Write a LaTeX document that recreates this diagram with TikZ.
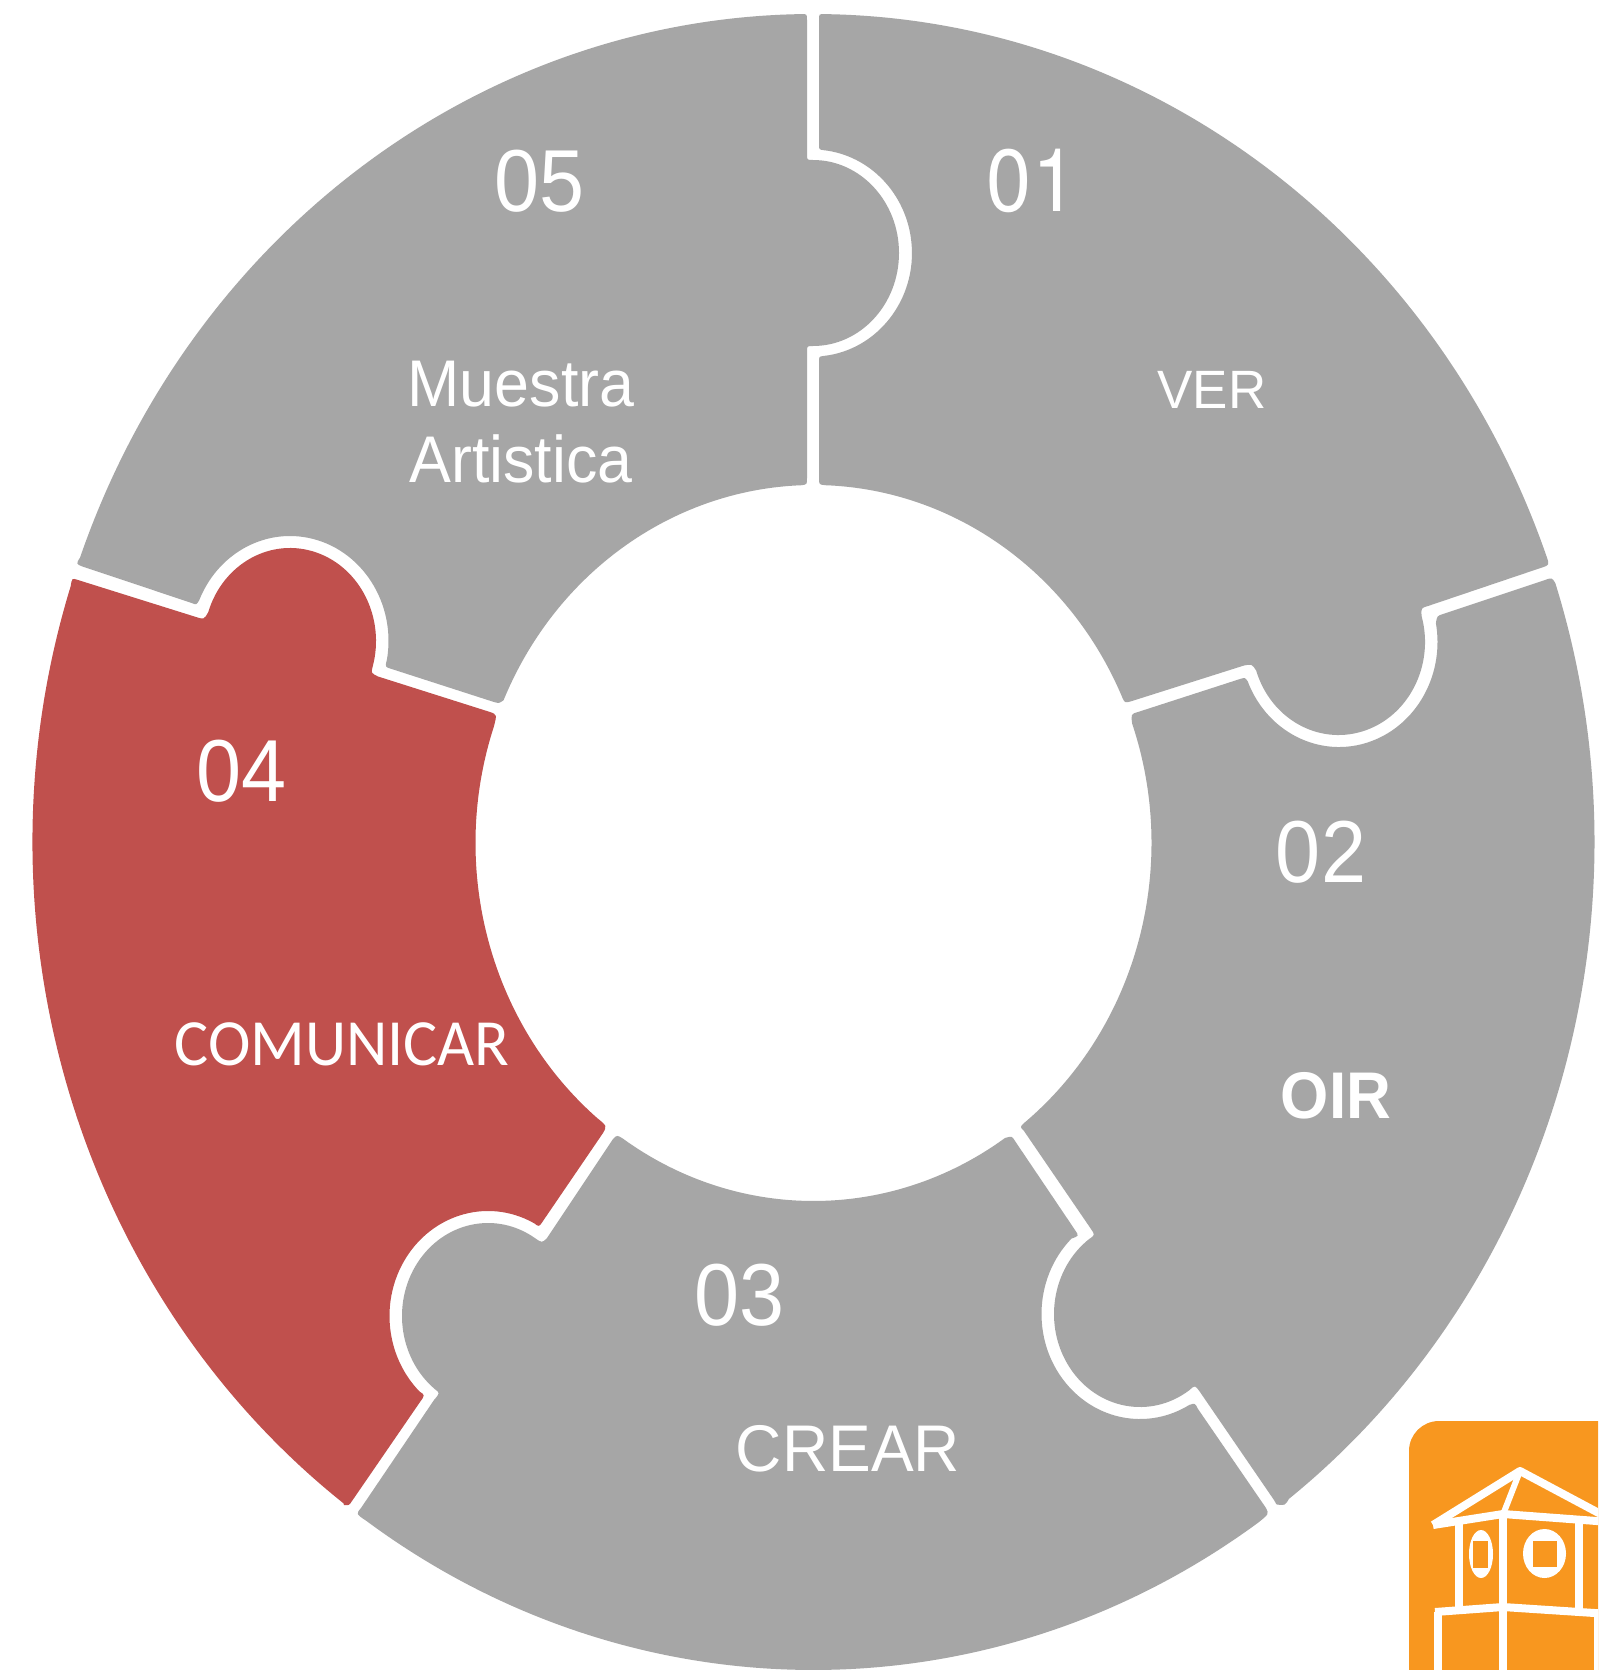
\documentclass[tikz,border=0pt]{standalone}
\usepackage{graphicx}
\usepackage{fontspec}
\setmainfont{Liberation Sans}
\newfontfamily\carlitofont{Carlito}
\newfontfamily\herosfont{TeX Gyre Heros}
\definecolor{pieceGrey}{HTML}{A6A6A6}
\definecolor{pieceRed}{HTML}{C0504D}
\definecolor{logoOrange}{HTML}{F8971F}
\newcommand{\stx}[2]{\scalebox{#1}[1]{#2}}
\tikzset{
  greyPiece/.style={fill=pieceGrey},
  redPiece/.style={fill=pieceRed},
  logoLine/.style={draw=white,line width=8pt,line cap=butt,line join=round},
  numLabel/.style={text=white,inner sep=0pt,anchor=center,font=\fontsize{88}{88}\selectfont},
  wordLabel/.style={text=white,inner sep=0pt,anchor=center,font=\fontsize{66}{66}\selectfont},
  outerArc/.style={x radius=781,y radius=828},
  innerArc/.style={x radius=338,y radius=358},
  tabArc/.style={x radius=86,y radius=93},
  holeArc/.style={x radius=98.5,y radius=105},
}
\begin{document}
\begin{tikzpicture}[x=1pt,y=-1pt]
\clip (0,0) rectangle (1598,1670);
\fill[white] (0,0) rectangle (1598,1670);

% 01
\path[greyPiece]
  ({813.5+781*cos(-89.2)},{842+828*sin(-89.2)})
  arc[start angle=-89.2,end angle=-20.2,outerArc]
  .. controls (1549.5,565) .. (1542,567.5) -- (1428,606)
  .. controls (1421,608) .. ({1338.5+86.5*cos(-16)},{642+93*sin(-16)})
  arc[start angle=-16,end angle=162,x radius=86.5,y radius=93]
  .. controls (1252,664) .. (1244,665.5) -- (1132,701)
  .. controls (1125,703) .. ({813.5+338*cos(-23.8)},{843+358*sin(-23.8)})
  arc[start angle=-23.8,end angle=-88,innerArc]
  .. controls (819,484.5) .. (819,478) -- (819,362)
  .. controls (819,356.6) .. (823.3,356)
  arc[start angle=84,end angle=-84,x radius=99,y radius=103.5]
  .. controls (819,149.5) .. (819,144) -- (819,20)
  .. controls (819,14) .. cycle;

% 02
\path[greyPiece]
  ({813.5+781*cos(-18.2)},{842+828*sin(-18.2)})
  arc[start angle=-18.2,end angle=52.5,outerArc]
  .. controls (1285,1505.5) .. (1277,1504.5)
  .. controls (1276.5,1504.5) .. (1274,1500) -- (1200,1392)
  .. controls (1195,1385) .. ({1140+86*cos(54.8)},{1314+93*sin(54.8)})
  arc[start angle=54.8,end angle=233.7,tabArc]
  .. controls (1095,1235) .. (1091,1229) -- (1024,1131)
  .. controls (1020,1127) .. ({813.5+338*cos(51.5)},{843+358*sin(51.5)})
  arc[start angle=51.5,end angle=-19.5,innerArc]
  .. controls (1131,714) .. (1138,712) -- (1240,679)
  .. controls (1245,677.5) .. ({1339+98.5*cos(158)},{642+105*sin(158)})
  arc[start angle=158,end angle=-10.3,holeArc]
  .. controls (1437,616) .. (1443,614) -- (1545,580)
  .. controls (1552,577.5) .. cycle;

% 03
\path[greyPiece]
  ({813.5+781*cos(55.3)},{842+828*sin(55.3)})
  arc[start angle=55.3,end angle=125,outerArc]
  .. controls (356,1514) .. (361,1508) -- (434,1400)
  .. controls (440,1393) .. ({488+86*cos(128)},{1316+93*sin(128)})
  arc[start angle=128,end angle=303,tabArc]
  .. controls (542,1243) .. (547,1238) -- (613,1139)
  .. controls (617,1135) .. ({813.5+338*cos(124.4)},{843+358*sin(124.4)})
  arc[start angle=124.4,end angle=55.5,innerArc]
  .. controls (1012,1136) .. (1015,1141) -- (1075,1230)
  .. controls (1079,1236) .. ({1140+98.5*cos(226)},{1314+105*sin(226)})
  arc[start angle=226,end angle=60,holeArc]
  .. controls (1195,1403) .. (1198,1409) -- (1266,1508)
  .. controls (1269,1514) .. cycle;

% 04
\path[redPiece]
  ({813.5+781*cos(127)},{842+828*sin(127)})
  arc[start angle=127,end angle=198,outerArc]
  .. controls (72,578) .. (78,580) -- (196,617)
  .. controls (204,619.5) .. ({290+86*cos(198)},{641+93*sin(198)})
  arc[start angle=198,end angle=376,tabArc]
  .. controls (371,673) .. (378,676.5) -- (490,712)
  .. controls (497,714.5) .. ({813.5+338*cos(198.9)},{843+358*sin(198.9)})
  arc[start angle=198.9,end angle=129.8,innerArc]
  .. controls (607,1126) .. (603,1133) -- (543,1221)
  .. controls (539,1227) .. ({488+98.5*cos(298)},{1316+105*sin(298)})
  arc[start angle=298,end angle=134,holeArc]
  .. controls (425,1395) .. (420,1402) -- (352,1501)
  .. controls (349,1505.5) .. (344,1505)
  -- cycle;

% 05
\path[greyPiece]
  ({813.5+781*cos(269)},{842+828*sin(269)})
  .. controls (807,13.8) .. (807,20) -- (807,154)
  .. controls (807,160) .. (813,160)
  arc[start angle=-90,end angle=90,tabArc]
  .. controls (807,346) .. (807,352) -- (807,478)
  .. controls (807,484.5) .. ({813.5+338*cos(267.9)},{843+358*sin(267.9)})
  arc[start angle=267.9,end angle=203.5,innerArc]
  .. controls (499,703.5) .. (493,701.7) -- (391.7,669)
  .. controls (385,667) .. ({290+98.5*cos(10.4)},{641+105*sin(10.4)})
  arc[start angle=10.4,end angle=-157,holeArc]
  .. controls (196.5,605) .. (191.7,603) -- (83,566.7)
  .. controls (76,564) .. ({813.5+781*cos(200.1)},{842+828*sin(200.1)})
  arc[start angle=200.1,end angle=269,outerArc]
  -- cycle;

% labels
\node[numLabel] (n05) at (540,181) {\stx{.92}{05}};
\node[numLabel,font=\herosfont\fontsize{88}{88}\selectfont] (n01) at (1032,181) {\stx{.92}{01}};
\node[numLabel] (n02) at (1321,852) {\stx{.92}{02}};
\node[numLabel] (n03) at (740,1295) {\stx{.92}{03}};
\node[numLabel] (n04) at (242,771) {\stx{.92}{04}};
\node[wordLabel] (muestra) at (521,384.5) {\stx{.95}{Muestra}};
\node[wordLabel] (artistica) at (521,459) {\stx{.95}{Artistica}};
\node[wordLabel,font=\fontsize{54}{54}\selectfont] (ver) at (1212,390) {\stx{.98}{VER}};
\node[wordLabel,font=\bfseries\fontsize{66}{66}\selectfont] (oir) at (1336,1096) {\stx{.94}{OIR}};
\node[wordLabel] (crear) at (848,1449) {\stx{.97}{CREAR}};
\node[wordLabel,font=\carlitofont\fontsize{66}{66}\selectfont] (comunicar) at (342,1044) {\stx{.97}{COMUNICAR}};

% logo
\fill[logoOrange,rounded corners=30pt] (1409,1421) rectangle (1660,1720);
\draw[logoLine] (1433,1525) -- (1520,1471) -- (1610,1519);
\draw[logoLine] (1433,1525) -- (1503,1514) -- (1610,1522);
\draw[logoLine,line width=6pt] (1520,1471) -- (1504,1512);
\draw[logoLine] (1503,1512) -- (1503,1670);
\draw[logoLine] (1459,1520) -- (1459,1610);
\draw[logoLine] (1579,1522) -- (1579,1610);
\draw[logoLine] (1435,1612) -- (1503,1607) -- (1610,1614);
\draw[logoLine] (1438,1612) -- (1438,1670);
\draw[logoLine] (1598,1612) -- (1598,1670);
\fill[white] (1481,1554) ellipse [x radius=12,y radius=24];
\fill[logoOrange] (1473,1541) rectangle (1488,1568);
\fill[white] (1544.5,1553.5) ellipse [x radius=21.5,y radius=24.5];
\fill[logoOrange] (1533,1541) rectangle (1557,1567);
\end{tikzpicture}
\end{document}
